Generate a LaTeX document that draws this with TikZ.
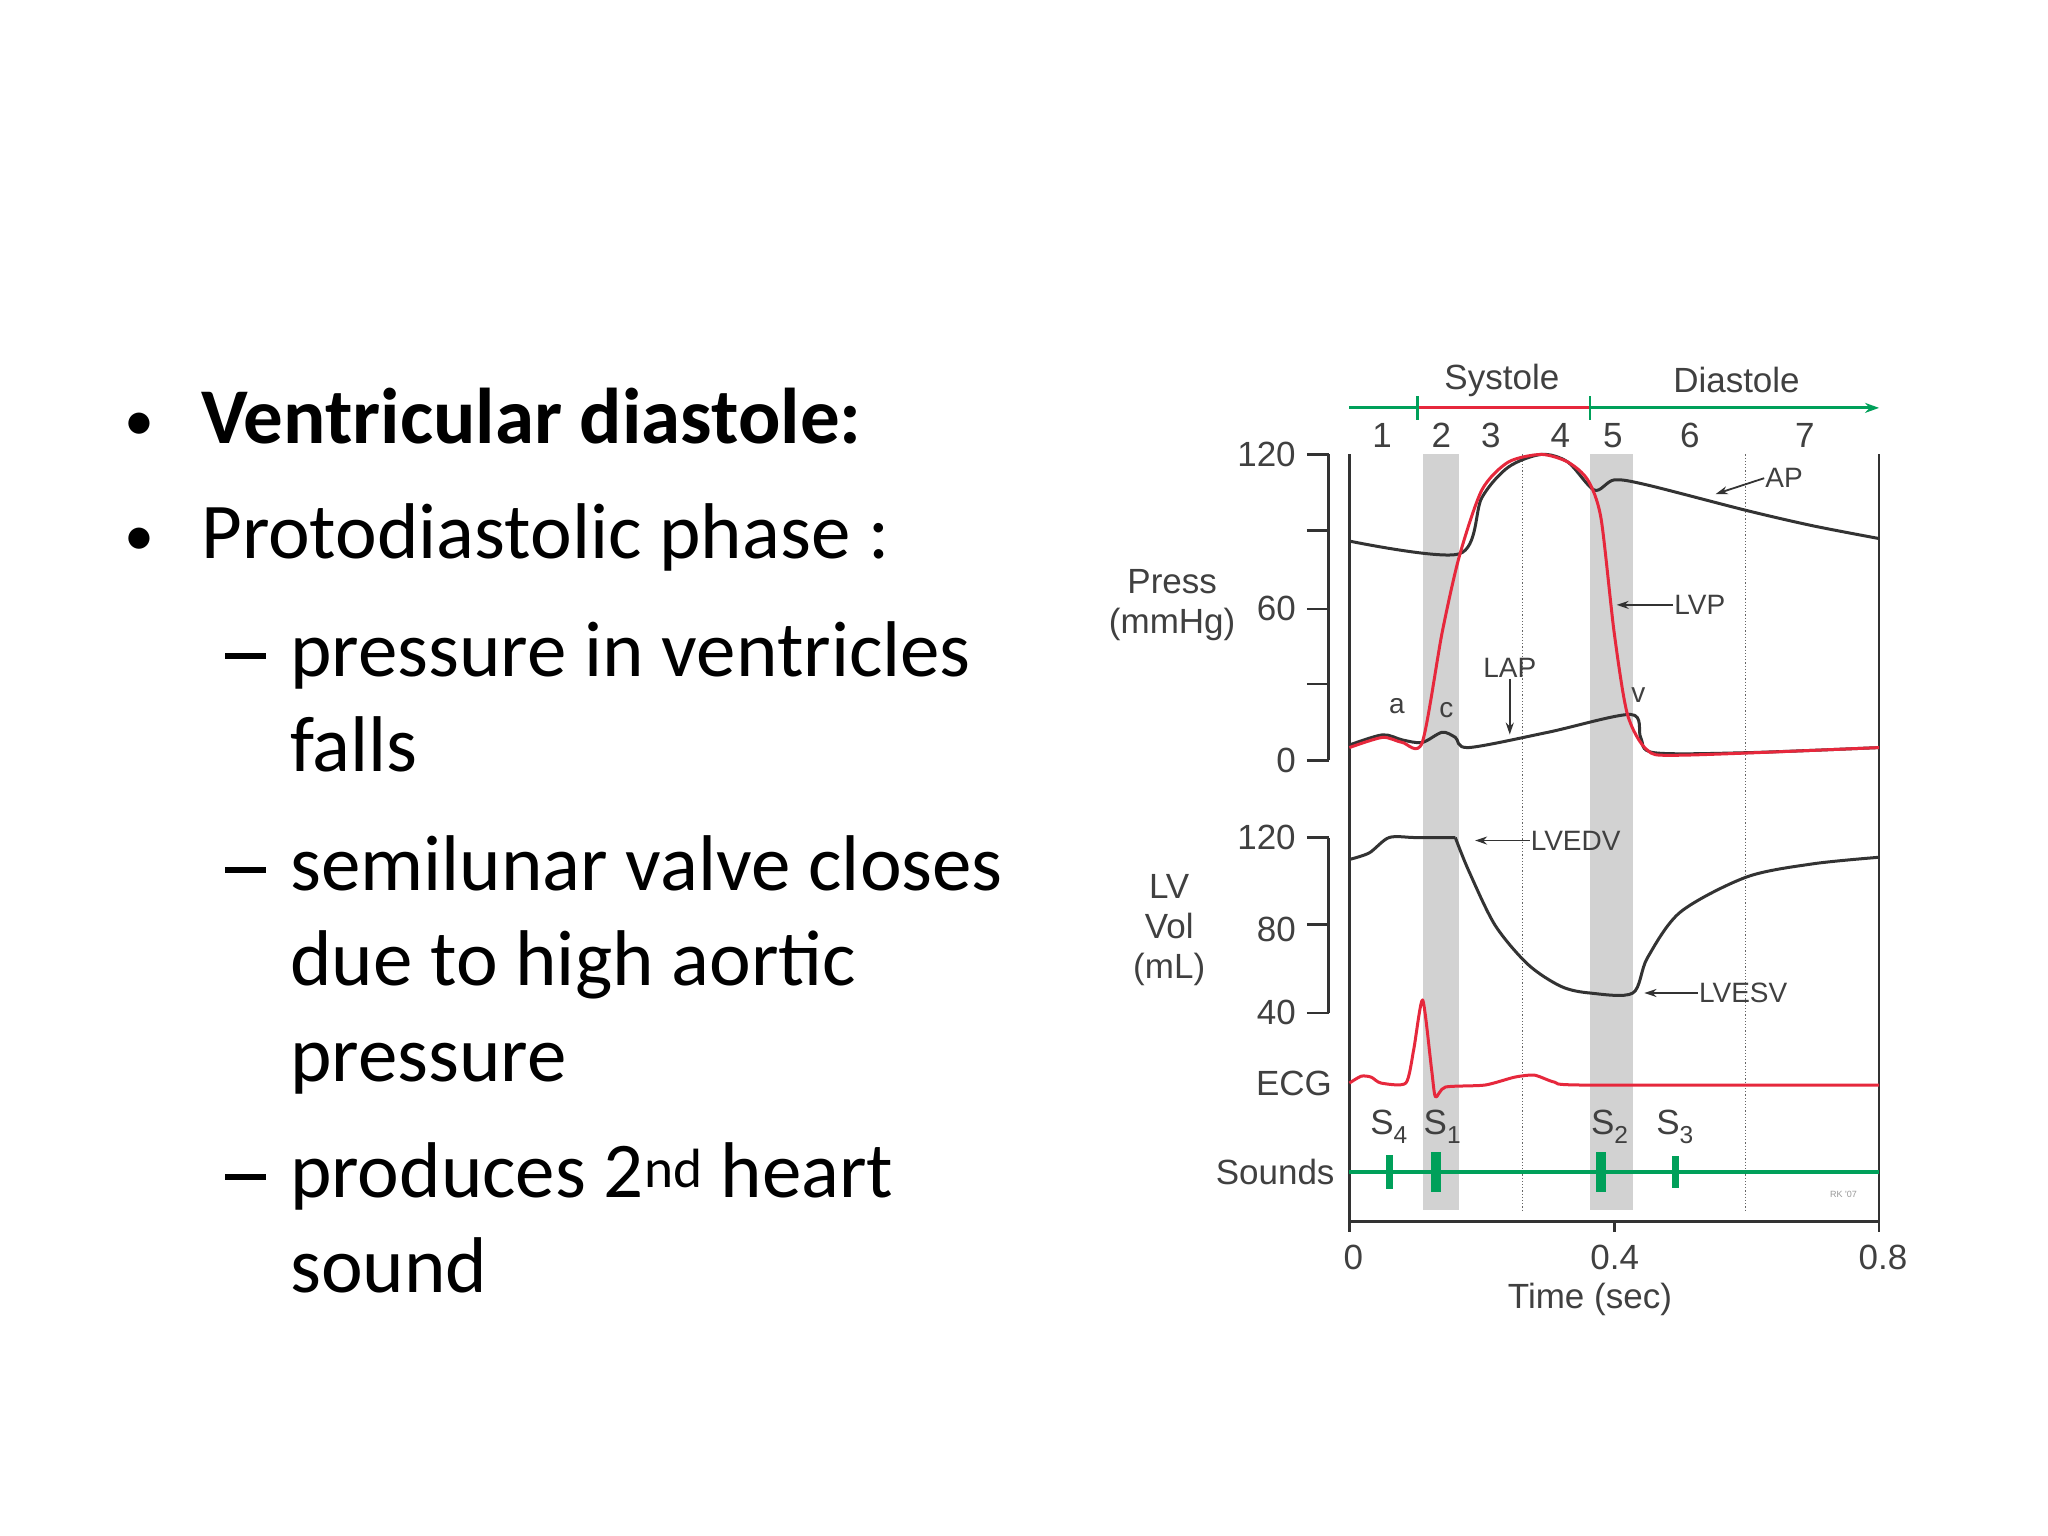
\documentclass[tikz,border=0pt]{standalone}
\usepackage{fontspec}
\setmainfont{Carlito}
\newfontfamily\arial{Liberation Sans}
\usetikzlibrary{arrows.meta}
\definecolor{gr}{RGB}{0,160,90}
\definecolor{rd}{RGB}{230,40,60}
\definecolor{band}{RGB}{210,210,210}
\newcommand{\mydash}{\rule[0.22em]{0.52em}{0.065em}}
\tikzset{lbl/.style={font=\arial\fontsize{35}{40}\selectfont,text=black!75,inner sep=1pt},
 small/.style={font=\arial\fontsize{28}{32}\selectfont,text=black!75,inner sep=1pt},
 body/.style={font=\fontsize{79}{88}\selectfont,anchor=base west,inner sep=0pt},
 curve/.style={line width=3pt,black!80,line join=round},
 rcurve/.style={line width=3pt,rd,line join=round},
 ax/.style={line width=2.5pt,black!80},
 lar/.style={line width=1.8pt,black!80,-{Stealth[length=12pt,width=8pt]}}}
\begin{document}
\begin{tikzpicture}[x=1pt,y=-1pt]
\useasboundingbox[fill=white] (0,0) rectangle (2048,1536);
% text
\node[body,font=\fontsize{60}{60}\selectfont] (b1) at (124,440) {•};
\node[body,font=\bfseries\fontsize{79}{88}\selectfont] (t1) at (201,443) {Ventricular diastole:};
\node[body,font=\fontsize{60}{60}\selectfont] (b2) at (124,555) {•};
\node[body] (t2) at (201,558) {Protodiastolic phase :};
\node[body] (d1) at (225,676) {\mydash};
\node[body] (t3) at (290,676) {pressure in ventricles};
\node[body] (t4) at (290,771) {falls};
\node[body] (d2) at (225,890) {\mydash};
\node[body] (t5) at (290,890) {semilunar valve closes};
\node[body] (t6) at (290,985) {due to high aortic};
\node[body] (t7) at (290,1081) {pressure};
\node[body] (d3) at (225,1197) {\mydash};
\node[body] (t8) at (290,1197) {produces 2\textsuperscript{nd} heart};
\node[body] (t9) at (290,1292) {sound};
\begin{scope}[scale=0.99]
% bands
\fill[band] (1437,459) rectangle (1474,1222);
\fill[band] (1606,459) rectangle (1649,1222);
\draw[dotted,line width=1.2pt,black!60] (1538,459) -- (1538,1222) (1763,459) -- (1763,1222);
% phase bar
\coordinate (p0) at (1363,412); \coordinate (p1) at (1432,412);
\coordinate (p2) at (1606,412); \coordinate (p3) at (1898,412);
\draw[gr,line width=3pt] (p0) -- (p1);
\draw[rd,line width=3pt] (p1) -- (p2);
\draw[gr,line width=3pt,-{Stealth[length=14pt,width=10pt]}] (p2) -- (p3);
\draw[gr,line width=2.5pt] (1432,400) -- (1432,424) (1606,400) -- (1606,424);
\node[lbl] (sys) at (1517,384) {Systole};
\node[lbl] (dia) at (1754,384) {Diastole};
\foreach \n/\x in {1/1396,2/1456,3/1506,4/1576,5/1629,6/1707,7/1823}
  \node[lbl] (ph\n) at (\x,440) {\n};
% axes
\draw[ax] (1342,459) -- (1342,768);
\foreach \y in {459,536,615,691,768} \draw[ax] (1320,\y) -- (1342,\y);
\node[lbl,anchor=east] (p120) at (1310,459) {120};
\node[lbl,anchor=east] (p60) at (1310,615) {60};
\node[lbl,anchor=east] (p00) at (1310,768) {0};
\node[lbl,align=center] (press) at (1184,611) {Press\\(mmHg)};
\draw[ax] (1342,846) -- (1342,1023);
\foreach \y in {846,934,1023} \draw[ax] (1320,\y) -- (1342,\y);
\node[lbl,anchor=east] (v120) at (1310,846) {120};
\node[lbl,anchor=east] (v80) at (1310,939) {80};
\node[lbl,anchor=east] (v40) at (1310,1023) {40};
\node[lbl,align=center] (lvvol) at (1181,939) {LV\\Vol\\(mL)};
\draw[ax] (1363,459) -- (1363,1244);
\draw[ax] (1898,459) -- (1898,1244);
\draw[ax] (1363,1234) -- (1898,1234);
\draw[ax] (1631,1234) -- (1631,1244);
\node[lbl] (x0) at (1367,1270) {0};
\node[lbl] (x4) at (1631,1270) {0.4};
\node[lbl] (x8) at (1902,1270) {0.8};
\node[lbl] (tlab) at (1606,1313) {Time (sec)};
\node[lbl] (ecg) at (1307,1094) {ECG};
\node[lbl] (snd) at (1288,1184) {Sounds};
% pressure curves
\begin{scope}[shift={(1363,768)},x=668.75pt,y=2.575pt]
\draw[curve] plot[smooth,tension=0.5] coordinates {(0,86) (0.166,81) (0.2,103) (0.24,115) (0.29,120) (0.33,117) (0.37,106) (0.4,110) (0.45,108) (0.6,98) (0.7,92) (0.8,87)};
\draw[curve] plot[smooth,tension=0.5] coordinates {(0,6) (0.05,10) (0.08,8) (0.11,7) (0.14,11) (0.16,9) (0.18,5) (0.3,11) (0.425,18) (0.44,9) (0.46,3) (0.6,3) (0.8,5)};
\draw[rcurve] plot[smooth,tension=0.45] coordinates {(0,5) (0.05,9) (0.08,7) (0.11,7) (0.14,50) (0.166,80) (0.2,106) (0.24,117) (0.29,120) (0.33,117) (0.36,110) (0.38,95) (0.40,50) (0.42,18) (0.45,4) (0.5,2) (0.8,5)};
\end{scope}
% volume
\begin{scope}[shift={(1363,1023)},x=668.75pt,y=2.2125pt]
\draw[curve] plot[smooth,tension=0.5] coordinates {(0,70) (0.03,73) (0.06,80) (0.1,80) (0.16,80)};
\draw[curve] plot[smooth,tension=0.5] coordinates {(0.16,80) (0.18,65) (0.22,40) (0.27,22) (0.32,12) (0.364,9) (0.428,9) (0.45,25) (0.5,46) (0.6,62) (0.7,68) (0.8,71)};
\end{scope}
% ECG
\draw[rcurve] plot[smooth,tension=0.4] coordinates {(1363,1094) (1375,1087) (1385,1088) (1395,1094) (1420,1094) (1428,1060) (1437,1010) (1446,1080) (1450,1108) (1460,1098) (1500,1096) (1530,1088) (1550,1086) (1570,1093) (1600,1096) (1898,1096)};
% sounds
\draw[gr,line width=3.5pt] (1363,1184) -- (1898,1184);
\draw[gr,line width=7pt] (1404,1167) -- (1404,1201) (1692,1168) -- (1692,1200);
\draw[gr,line width=10pt] (1450,1164) -- (1450,1204) (1617,1164) -- (1617,1204);
\node[lbl] (s4) at (1403,1138) {S\textsubscript{4}};
\node[lbl] (s1) at (1457,1138) {S\textsubscript{1}};
\node[lbl] (s2) at (1626,1138) {S\textsubscript{2}};
\node[lbl] (s3) at (1692,1138) {S\textsubscript{3}};
\node[font=\arial\fontsize{9}{10}\selectfont,text=black!40] (rk) at (1862,1206) {RK '07};
% annotations
\node[small,anchor=west] (ap) at (1782,483) {AP};
\coordinate (apt) at (1733,499);
\draw[lar] (ap.west) -- (apt);
\node[small,anchor=west] (lvp) at (1690,611) {LVP};
\coordinate (lvpt) at (1633,611);
\draw[lar] (lvp.west) -- (lvpt);
\node[small] (lap) at (1525,675) {LAP};
\coordinate (lapt) at (1525,742);
\draw[lar] (lap.south) -- (lapt);
\node[small] (a) at (1411,713) {a};
\node[small] (c) at (1461,717) {c};
\node[small] (v) at (1655,702) {v};
\node[small,anchor=west] (lvedv) at (1545,849) {LVEDV};
\coordinate (lvedvt) at (1490,849);
\draw[lar] (lvedv.west) -- (lvedvt);
\node[small,anchor=west] (lvesv) at (1715,1003) {LVESV};
\coordinate (lvesvt) at (1661,1003);
\draw[lar] (lvesv.west) -- (lvesvt);
\end{scope}
\end{tikzpicture}
\end{document}
